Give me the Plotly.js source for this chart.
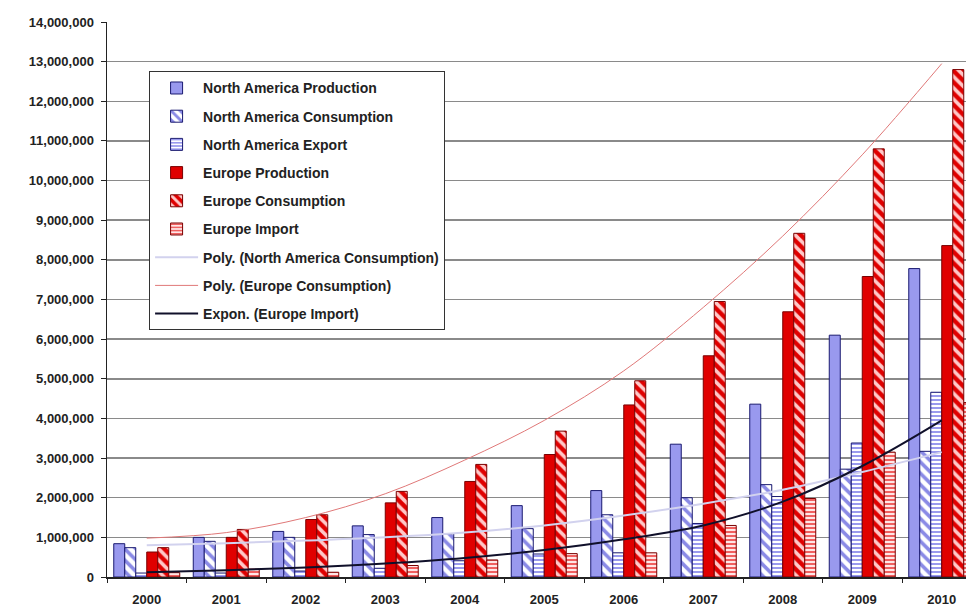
<!DOCTYPE html>
<html>
<head>
<meta charset="utf-8">
<script src="https://cdn.plot.ly/plotly-3.0.1.min.js"></script>
<style>
html,body{margin:0;padding:0;background:#fff;overflow:hidden;}
#chart{width:966px;height:612px;}
</style>
</head>
<body>
<div id="chart"></div>
<script>
// Categories
var years = ['2000','2001','2002','2003','2004','2005','2006','2007','2008','2009','2010'];
// Bar series (tonnes)
var naProduction  = [840000, 1000000, 1150000, 1290000, 1500000, 1800000, 2180000, 3350000, 4360000, 6100000, 7780000];
var naConsumption = [740000, 900000, 1000000, 1070000, 1090000, 1220000, 1570000, 2000000, 2330000, 2720000, 3170000];
var naExport      = [100000, 100000, 150000, 220000, 410000, 580000, 610000, 1350000, 2030000, 3380000, 4660000];
var euProduction  = [630000, 1000000, 1450000, 1870000, 2410000, 3090000, 4340000, 5580000, 6690000, 7580000, 8360000];
var euConsumption = [740000, 1200000, 1570000, 2160000, 2840000, 3680000, 4950000, 6950000, 8670000, 10800000, 12800000];
var euImport      = [110000, 200000, 120000, 290000, 430000, 590000, 610000, 1300000, 1980000, 3150000, 4400000];
// Trendlines (at category centres)
var polyNaConsumption = [800000, 850000, 920000, 1000000, 1120000, 1300000, 1550000, 1850000, 2200000, 2650000, 3150000];
var polyEuConsumption = [980000, 1120000, 1500000, 2100000, 2950000, 3950000, 5200000, 6800000, 8600000, 10650000, 12950000];
var exponEuImport     = [120000, 170000, 240000, 340000, 480000, 680000, 950000, 1300000, 1900000, 2800000, 3950000];

var BLUE = '#9999EE', NAVY = '#1a1a70', RED = '#E00000', DRED = '#7a0000';

function bar(name, y, fill, line, pattern){
  var m = {color: fill, line: {color: line, width: 1}};
  if (pattern) m.pattern = pattern;
  return {type:'bar', name:name, x:years, y:y, marker:m, legendgroup:name};
}
function trend(name, y, color, width){
  return {type:'scatter', mode:'lines', name:name, x:years, y:y,
          line:{color:color, width:width, shape:'spline'}, legendgroup:name, hoverinfo:'skip'};
}

var data = [
  bar('North America Production', naProduction, BLUE, NAVY),
  bar('North America Consumption', naConsumption, '#ffffff', NAVY,
      {shape:'\\', fgcolor:'#8a8ae6', bgcolor:'#ffffff', size:8, solidity:0.45, fillmode:'replace'}),
  bar('North America Export', naExport, '#ffffff', NAVY,
      {shape:'-', fgcolor:'#9a9aee', bgcolor:'#ffffff', size:4, solidity:0.5, fillmode:'replace'}),
  bar('Europe Production', euProduction, RED, DRED),
  bar('Europe Consumption', euConsumption, RED, DRED,
      {shape:'\\', fgcolor:'#ffc8c8', bgcolor:RED, size:8, solidity:0.45, fillmode:'replace'}),
  bar('Europe Import', euImport, '#ffffff', DRED,
      {shape:'-', fgcolor:'#f06060', bgcolor:'#ffe6e6', size:4, solidity:0.5, fillmode:'replace'}),
  trend('Poly. (North America Consumption)', polyNaConsumption, '#d2d2ee', 2),
  trend('Poly. (Europe Consumption)', polyEuConsumption, '#e07878', 1),
  trend('Expon. (Europe Import)', exponEuImport, '#10102a', 2)
];

var tickFont = {family:'Liberation Sans, Arial, sans-serif', size:13, color:'#222', weight:'bold'};

var layout = {
  width:966, height:612,
  margin:{l:107, r:0, t:22, b:35, pad:0},
  paper_bgcolor:'#ffffff', plot_bgcolor:'#ffffff',
  barmode:'group', bargap:0.17, bargroupgap:0,
  showlegend:true,
  legend:{x:0.049, y:0.911, xanchor:'left', yanchor:'top',
          bgcolor:'#ffffff', bordercolor:'#333', borderwidth:1,
          font:{family:'Liberation Sans, Arial, sans-serif', size:14, color:'#222', weight:'bold'},
          traceorder:'grouped', tracegroupgap:7, itemwidth:43},
  xaxis:{type:'category', range:[-0.5, 10.305], tickson:'boundaries',
         ticks:'outside', ticklen:4, tickcolor:'#222', showgrid:false,
         showline:true, linecolor:'#222', linewidth:1.5, ticklabelstandoff:10,
         tickfont:tickFont, fixedrange:true},
  yaxis:{range:[0, 14000000], dtick:1000000, tickformat:',d',
         ticks:'outside', ticklen:5, tickcolor:'#222', ticklabelstandoff:4,
         showgrid:true, gridcolor:'#8a8a8a', gridwidth:1.5,
         showline:true, linecolor:'#222', linewidth:1.5, zeroline:false,
         tickfont:tickFont, fixedrange:true}
};

Plotly.newPlot('chart', data, layout, {displayModeBar:false, staticPlot:true});
</script>
</body>
</html>
